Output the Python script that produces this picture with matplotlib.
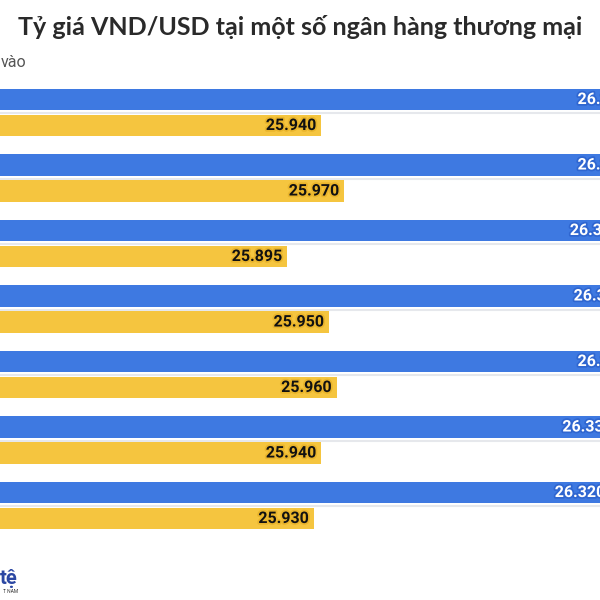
import matplotlib
matplotlib.use("Agg")
import matplotlib.pyplot as plt
import matplotlib.patheffects as pe
import numpy as np

# ---- data ----
banks = ["Ngân hàng 1", "Ngân hàng 2", "Ngân hàng 3", "Ngân hàng 4",
         "Ngân hàng 5", "Ngân hàng 6", "Ngân hàng 7"]
sell_values = [26350, 26350, 26340, 26345, 26350, 26330, 26320]   # blue (bán ra)
buy_values = [25940, 25970, 25895, 25950, 25960, 25940, 25930]    # yellow (mua vào)
title = "Tỷ giá VND/USD tại một số ngân hàng thương mại"
subtitle = "vào"

BLUE = "#3e79e1"
YELLOW = "#f5c53f"
W, H = 600, 600

fig = plt.figure(figsize=(6, 6), dpi=100)
fig.patch.set_facecolor("white")
ax = fig.add_axes([0, 0, 1, 1])
ax.set_axis_off()

pitch = 65.5
top_center = 112.5
ax.set_ylim((H - top_center) / pitch, -top_center / pitch)
px_per_unit = 0.76
x0 = 25517
ax.set_xlim(x0, x0 + W / px_per_unit)

idx = np.arange(len(banks))
off = 13 / pitch
h = 21.5 / pitch

for i in idx:
    ax.axhline(i + 0.01, color="#e6e8ec", lw=1.5, zorder=1)

ax.barh(idx - off, sell_values, height=h, color=BLUE, zorder=2)
ax.barh(idx + off, buy_values, height=h, color=YELLOW, zorder=2)

def fmt(v):
    return f"{v:,}".replace(",", ".")

for i in idx:
    ax.annotate(fmt(sell_values[i]), xy=(sell_values[i], i - off), xytext=(-3.8, 0),
                textcoords="offset points", ha="right", va="center",
                fontsize=11.5, fontweight="bold", family=["Roboto", "DejaVu Sans"],
                color="white", annotation_clip=False, zorder=3,
                path_effects=[pe.withStroke(linewidth=2.5, foreground="#2f66d0")])
    ax.annotate(fmt(buy_values[i]), xy=(buy_values[i], i + off), xytext=(-3.8, 0),
                textcoords="offset points", ha="right", va="center",
                fontsize=11.5, fontweight="bold", family=["Roboto", "DejaVu Sans"],
                color="#111111", annotation_clip=False, zorder=3,
                path_effects=[pe.withStroke(linewidth=2.5, foreground="#eab52c")])

t = fig.text(0.5, 1 - 35 / H, title, ha="center", va="baseline",
             fontsize=20, fontweight="bold", family=["Lato", "DejaVu Sans"], color="#2a2a2a")
# fit title width to ~563 px
fig.canvas.draw()
bb = t.get_window_extent()
t.set_fontsize(20 * 563 / bb.width)

fig.text(1 / W, 1 - 67 / H, subtitle, ha="left", va="baseline",
         fontsize=11.5, family=["Roboto", "DejaVu Sans"], color="#555555")

fig.text(18 / W, 1 - 584 / H, "tệ", ha="right", va="baseline",
         fontsize=14.5, fontweight="bold", family=["Roboto", "DejaVu Sans"], color="#2b47a3")
fig.text(18 / W, 1 - 593 / H, "T NAM", ha="right", va="baseline",
         fontsize=3.5, family=["Roboto", "DejaVu Sans"], color="#333333")

fig.savefig("out.png", dpi=100, facecolor="white")
